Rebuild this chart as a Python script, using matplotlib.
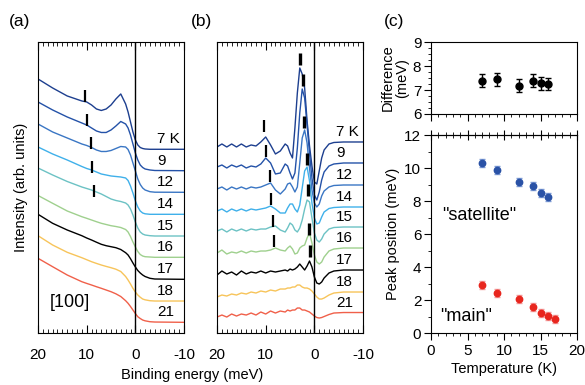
import numpy as np
import matplotlib.pyplot as plt
from matplotlib.ticker import MultipleLocator

plt.rcParams['font.family'] = ['Liberation Sans', 'DejaVu Sans']
plt.rcParams['axes.unicode_minus'] = False
plt.rcParams['font.size'] = 10

temp_labels = ['7 K', '9', '12', '14', '15', '16', '17', '18', '21']
colors = ['#1d3f8f', '#2452a8', '#3a76c4', '#3fb0ea', '#6cc2c4',
          '#9fd08e', 'black', '#f7c45a', '#f0604a']

# ---- panel (a): raw spectra (arb. units, offset) ----
energy_a = [20, 17, 14, 11, 10, 9, 8, 7, 6, 5, 4, 3, 2, 1.5, 1, 0.5, 0,
            -0.5, -1, -1.5, -2, -3, -4, -10]
spec_a = [
    [254, 245, 237, 232, 231, 228, 224, 222.5, 224, 228, 234, 239, 229, 221, 211, 201, 193, 188, 185.5, 184.5, 184, 183.7, 183.7, 183.7],
    [231, 223, 216, 210, 208, 205, 202, 200.5, 200.5, 203, 207, 211.5, 209, 205, 198, 189, 180, 173, 168, 165.5, 164, 163, 162.5, 162.3],
    [209, 201, 195, 189, 187.5, 185.5, 183, 181.5, 181.5, 182.5, 184.5, 186.5, 186, 183.5, 178, 170, 162, 154, 148.5, 145, 143, 141.3, 140.8, 140.7],
    [186, 179, 173, 166.5, 164.5, 163, 161, 159, 158, 157, 156.5, 156, 155, 152.5, 147, 140, 132, 126, 122, 120, 119.2, 118.7, 118.7, 118.7],
    [165, 158, 151.5, 146, 144.5, 143, 141, 139, 136.5, 134, 132.5, 131.5, 130, 128, 124, 118, 111, 105, 101, 99, 98, 97.3, 97, 97],
    [137.5, 129.7, 122, 116.3, 114.7, 113, 111.3, 109.7, 108.5, 107.3, 106.5, 105.5, 103.5, 101, 96.5, 91, 86, 81.5, 78.5, 77, 76.3, 76, 75.7, 75.7],
    [118.7, 109.7, 103, 97.3, 95, 93, 90.8, 88.7, 87.3, 86.3, 85.3, 83.5, 80.3, 78, 74.3, 70, 66, 62.5, 60, 58, 56.5, 54.7, 54, 53.7],
    [97.3, 88, 80.7, 75.3, 73.3, 71.3, 69.6, 68, 66.6, 65.3, 63.8, 61.5, 56.5, 53, 49, 44.7, 41, 38, 35.8, 34, 33.2, 32.3, 32, 32],
    [74.7, 66.3, 58, 51.3, 49.6, 48, 46.3, 44.7, 43, 41.3, 39.2, 36.5, 32.3, 29.7, 26.5, 23, 19.5, 16.3, 14.5, 13, 12.2, 11.3, 11, 10.7],
]

# ---- panel (b): second-derivative-like spectra ----
energy_b = [20, 19, 18, 17, 16, 15, 14, 13, 12, 11, 10, 9, 8, 7, 6, 5.5, 5, 4.5,
            4, 3.5, 3, 2.5, 2, 1.5, 1, 0.5, 0, -0.5, -1, -1.5, -2, -3, -4, -6, -10]
spec_b = [
    [186, 189, 186, 189, 186, 189, 186, 188, 187, 191, 196, 188, 179, 182, 189, 187, 180, 175, 205, 240, 265, 259, 245, 212, 187, 167, 151, 149, 162, 175, 183, 189, 190.5, 191, 191],
    [166, 168, 165, 168, 166, 168, 165, 167, 166, 169, 175, 170, 159, 160, 169, 167, 160, 154, 160, 185, 220, 244, 235, 208, 180, 155, 138, 133, 141, 153, 161, 167, 169, 170, 170],
    [144, 146, 143, 146, 144, 146, 144, 146, 145, 146, 148, 150, 143, 139, 144, 149, 150, 146, 141, 146, 170, 195, 203, 190, 165, 143, 130, 126, 129, 137, 142, 146, 147.5, 148, 148],
    [122, 124, 121, 124, 122, 124, 122, 124, 123, 124, 125, 127, 124, 120, 120, 125, 129, 129, 124, 121, 128, 145, 162, 166, 152, 130, 115, 109, 110, 116, 121, 124.5, 125.5, 126, 126],
    [102, 104, 101, 104, 102, 104, 102, 104, 103, 104, 104, 106, 107, 103, 101, 105, 110, 108, 103, 101, 105, 113, 124, 133, 131, 115, 100, 93, 91, 94, 99, 104, 105.5, 106, 106],
    [80, 83, 79, 81, 80, 82, 80, 82, 81, 82, 82, 83, 85, 83, 82, 85, 87, 84, 79, 80, 85, 87, 88, 95, 100, 90, 78, 71, 69, 71, 76, 82, 84, 85, 85],
    [58, 62, 59, 61, 58, 62, 59, 61, 60, 62, 60, 62, 61, 62, 63, 62, 64, 63, 64, 66, 69, 66, 63, 67, 72, 66, 56, 50, 49, 51, 55, 60, 62, 63, 63],
    [36, 38, 37, 39, 38, 40, 39, 41, 40, 42, 41, 43, 42, 44, 44, 45, 45, 46, 46, 48, 48, 46, 45, 45, 44, 42, 39, 36, 34, 34, 35, 38, 40, 41, 41],
    [16, 18, 16, 19, 17, 19, 18, 20, 18, 21, 19, 22, 20, 22, 21, 23, 22, 23, 23, 25, 25, 23, 23, 22, 21, 19, 17, 15.5, 15, 15.5, 16.5, 18.5, 20, 20.5, 20.5],
]

# ---- panel (c): peak positions ----
t_diff = [7, 9, 12, 14, 15, 16]
diff = [7.39, 7.45, 7.17, 7.39, 7.29, 7.25]
diff_err = 0.27
t_sat = [7, 9, 12, 14, 15, 16]
sat = [10.29, 9.86, 9.14, 8.92, 8.51, 8.27]
t_main = [7, 9, 12, 14, 15, 16, 17]
main = [2.92, 2.44, 2.04, 1.56, 1.22, 1.02, 0.86]
peak_err = 0.24

# vertical positions of the tick marks over the peaks
mark_a_sat = [237, 213, 190, 166, 142]
mark_b_sat = [206.5, 182, 157, 134, 112, 92]
mark_b_main = [274, 253, 211, 174, 143, 104, 82]

fig = plt.figure(figsize=(5.85, 3.85), dpi=100)
ax_a = fig.add_axes([0.065, 0.135, 0.2496, 0.756])
ax_b = fig.add_axes([0.371, 0.135, 0.2496, 0.756])
ax_d = fig.add_axes([0.7368, 0.7039, 0.2496, 0.187])
ax_p = fig.add_axes([0.7368, 0.135, 0.2496, 0.5143])

for ax, en, specs in [(ax_a, energy_a, spec_a), (ax_b, energy_b, spec_b)]:
    for s, c, lab in zip(specs, colors, temp_labels):
        ax.plot(en, s, color=c, lw=1.0)
        ax.text(-4.4, s[-1] + 10, lab, ha='left', va='center', fontsize=11)
    ax.axvline(0, color='black', lw=1.0)
    ax.set_xlim(20, -10)
    ax.set_ylim(0, 291)
    ax.set_yticks([])
    ax.xaxis.set_major_locator(MultipleLocator(10))
    ax.xaxis.set_minor_locator(MultipleLocator(1))
    ax.tick_params(axis='x', which='both', direction='in', top=True, bottom=True)
    ax.tick_params(axis='x', which='major', length=6, pad=11, labelsize=11)
    ax.tick_params(axis='x', which='minor', length=3)

ax_a.plot(sat[:5], mark_a_sat, ls='none', marker='|', ms=9, mew=1.6, color='black')
ax_b.plot(sat, mark_b_sat, ls='none', marker='|', ms=9, mew=1.6, color='black')
ax_b.plot(main, mark_b_main, ls='none', marker='|', ms=9, mew=2.4, color='black', zorder=5)
ax_a.text(13.4, 31, '[100]', ha='center', va='center', fontsize=13)

ax_a.set_ylabel('Intensity (arb. units)', fontsize=10.5, labelpad=7)
fig.text(0.328, 0.026, 'Binding energy (meV)', ha='center', va='center', fontsize=10.5)

# difference panel
ax_d.errorbar(t_diff, diff, yerr=diff_err, fmt='o', color='black', ms=5,
              capsize=2.5, elinewidth=1, capthick=1)
ax_d.set_xlim(0, 20)
ax_d.set_ylim(6, 9)
ax_d.set_yticks([6, 7, 8, 9])
ax_d.yaxis.set_minor_locator(MultipleLocator(0.25))
ax_d.xaxis.set_major_locator(MultipleLocator(5))
ax_d.xaxis.set_minor_locator(MultipleLocator(1))
ax_d.set_xticklabels([])
ax_d.tick_params(which='major', direction='out', length=5, pad=2, labelsize=11)
ax_d.tick_params(which='minor', direction='out', length=2.5)
ax_d.set_ylabel('Difference\n(meV)', fontsize=10.5, labelpad=3, linespacing=0.95)

# peak position panel
ax_p.errorbar(t_sat, sat, yerr=peak_err, fmt='none', ecolor='#7d9bd6',
              capsize=2.5, elinewidth=1, capthick=1)
ax_p.plot(t_sat, sat, 'o', color='#2a52a6', ms=4.6)
ax_p.errorbar(t_main, main, yerr=peak_err, fmt='none', ecolor='#f49a9a',
              capsize=2.5, elinewidth=1, capthick=1)
ax_p.plot(t_main, main, 'o', color='#e8261e', ms=4.6)
ax_p.set_xlim(0, 20)
ax_p.set_ylim(0, 12)
ax_p.xaxis.set_major_locator(MultipleLocator(5))
ax_p.xaxis.set_minor_locator(MultipleLocator(1))
ax_p.yaxis.set_major_locator(MultipleLocator(2))
ax_p.yaxis.set_minor_locator(MultipleLocator(1))
ax_p.tick_params(which='major', direction='out', length=5, pad=2, labelsize=11)
ax_p.tick_params(which='minor', direction='out', length=2.5)
ax_p.tick_params(axis='x', which='major', pad=3)
top = ax_p.secondary_xaxis('top')
top.xaxis.set_major_locator(MultipleLocator(5))
top.xaxis.set_minor_locator(MultipleLocator(1))
top.tick_params(which='major', direction='inout', length=7, labeltop=False)
top.tick_params(which='minor', direction='inout', length=4)
top.set_xticklabels([])
ax_p.text(1.5, 7.1, '"satellite"', ha='left', va='center', fontsize=13)
ax_p.text(1.2, 1.03, '"main"', ha='left', va='center', fontsize=13)
ax_p.set_xlabel('Temperature (K)', fontsize=10.5, labelpad=3)
ax_p.set_ylabel('Peak position (meV)', fontsize=10.5, labelpad=3)

fig.text(0.034, 0.945, '(a)', ha='center', va='center', fontsize=12.5)
fig.text(0.344, 0.945, '(b)', ha='center', va='center', fontsize=12.5)
fig.text(0.674, 0.945, '(c)', ha='center', va='center', fontsize=12.5)

fig.savefig('out.png', dpi=100)
